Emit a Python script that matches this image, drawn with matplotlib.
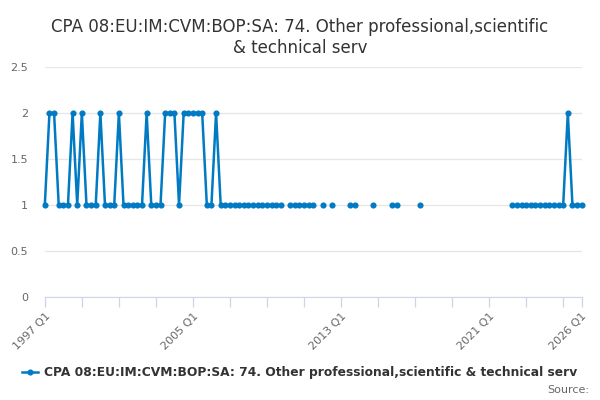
import numpy as np
import matplotlib.pyplot as plt

nan = np.nan

# quarterly values, 1997 Q1 .. 2026 Q1 (nan = no value)
values = [
    1, 2, 2, 1,        # 1997
    1, 1, 2, 1,        # 1998
    2, 1, 1, 1,        # 1999
    2, 1, 1, 1,        # 2000
    2, 1, 1, 1,        # 2001
    1, 1, 2, 1,        # 2002
    1, 1, 2, 2,        # 2003
    2, 1, 2, 2,        # 2004
    2, 2, 2, 1,        # 2005
    1, 2, 1, 1,        # 2006
    1, 1, 1, 1,        # 2007
    1, 1, 1, 1,        # 2008
    1, 1, 1, 1,        # 2009
    nan, 1, 1, 1,      # 2010
    1, 1, 1, nan,      # 2011
    1, nan, 1, nan,    # 2012
    nan, nan, 1, 1,    # 2013
    nan, nan, nan, 1,  # 2014
    nan, nan, nan, 1,  # 2015
    1, nan, nan, nan,  # 2016
    nan, 1, nan, nan,  # 2017
    nan, nan, nan, nan,  # 2018
    nan, nan, nan, nan,  # 2019
    nan, nan, nan, nan,  # 2020
    nan, nan, nan, nan,  # 2021
    nan, 1, 1, 1,      # 2022
    1, 1, 1, 1,        # 2023
    1, 1, 1, 1,        # 2024
    1, 2, 1, 1,        # 2025
    1,                 # 2026
]

quarters = ["%d Q%d" % (1997 + k // 4, k % 4 + 1) for k in range(len(values))]
label_at = ["1997 Q1", "2005 Q1", "2013 Q1", "2021 Q1", "2026 Q1"]
y_ticks = [0, 0.5, 1, 1.5, 2, 2.5]
y_labels = ["0", "0.5", "1", "1.5", "2", "2.5"]
series_name = "CPA 08:EU:IM:CVM:BOP:SA: 74. Other professional,scientific & technical serv"

x = np.arange(len(values))

fig = plt.figure(figsize=(6, 4), dpi=100)
ax = fig.add_axes([0.0747, 0.2575, 0.8948, 0.575])

ax.plot(x, values, color="#007ac3", lw=1.8, marker="o", ms=3.4,
        label=series_name, clip_on=False, zorder=3)

ax.set_xlim(0, len(values) - 1)
ax.set_ylim(0, 2.5)
ax.set_yticks(y_ticks)
ax.set_yticklabels(y_labels)
ax.grid(axis="y", color="#e6e6e6", lw=0.9)
ax.set_axisbelow(True)

# tick every 8 quarters plus the last one, labels only some
tick_pos = list(range(0, len(values) - 1, 8)) + [len(values) - 1]
ax.set_xticks(tick_pos)
ax.set_xticklabels([quarters[p] if quarters[p] in label_at else "" for p in tick_pos],
                   rotation=45, ha="right", rotation_mode="anchor")

for s in ["top", "right", "left"]:
    ax.spines[s].set_visible(False)
ax.spines["bottom"].set_color("#ccd6eb")
ax.tick_params(axis="x", colors="#ccd6eb", length=7, width=0.9, labelcolor="#666666",
               labelsize=8, pad=3)
ax.tick_params(axis="y", length=0, labelcolor="#666666", labelsize=8, pad=12)

fig.text(0.5, 0.955, "CPA 08:EU:IM:CVM:BOP:SA: 74. Other professional,scientific\n& technical serv",
         ha="center", va="top", fontsize=12, color="#333333", linespacing=1.2)

leg = fig.legend(loc="center", bbox_to_anchor=(0.5, 0.068), frameon=False,
                 handlelength=1.3, handletextpad=0.5, prop={"size": 8.8, "weight": "bold"})
for t in leg.get_texts():
    t.set_color("#333333")

fig.text(0.982, 0.025, "Source:", ha="right", va="center", fontsize=8, color="#666666")

fig.savefig("out.png", dpi=100)
